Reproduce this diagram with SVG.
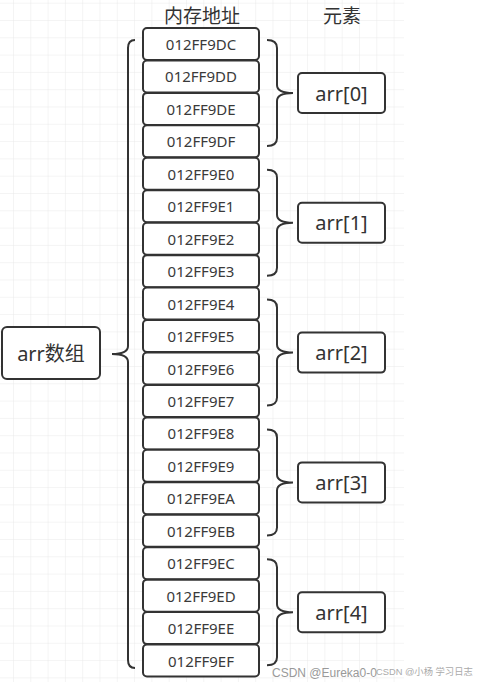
<svg xmlns="http://www.w3.org/2000/svg" width="477" height="682" viewBox="0 0 477 682">
<defs>
<pattern id="grid" x="13" y="2.7" width="17.3" height="17.3" patternUnits="userSpaceOnUse">
<path d="M0,0 L17.3,0 M0,0 L0,17.3" fill="none" stroke="#e9e9e9" stroke-width="1"/>
</pattern>
<path id="rb" d="M0,0 Q10,0 10,8 L10,45 Q10,53 26,53 Q10,53 10,61 L10,98 Q10,106 0,106" fill="none" stroke="#333" stroke-width="2"/>
</defs>
<style>
.box{fill:#fff;stroke:#333;stroke-width:2}
.mt{font-family:"Noto Sans","Noto Sans CJK SC",sans-serif;font-size:15px;fill:#3a3a3a;text-anchor:middle;dominant-baseline:central}
.et{font-family:"Noto Sans","Noto Sans CJK SC",sans-serif;font-size:20px;fill:#333;text-anchor:middle;dominant-baseline:central}
.hd{font-family:"Noto Sans CJK SC",sans-serif;font-size:19px;fill:#333;text-anchor:middle}
.br{fill:none;stroke:#333;stroke-width:2}
</style>
<rect width="477" height="682" fill="#fff"/>
<rect x="0" y="0" width="404" height="682" fill="url(#grid)"/>
<text class="hd" x="202" y="23">内存地址</text>
<text class="hd" x="342" y="23">元素</text>
<g id="connectors">
<path class="br" d="M135,40 Q128,40 128,48 L128,346 Q128,354 112,354 Q128,354 128,362 L128,660 Q128,668 135,668"/>
<use href="#rb" x="267" y="40"/>
<use href="#rb" x="267" y="169.8"/>
<use href="#rb" x="267" y="299.6"/>
<use href="#rb" x="267" y="429.4"/>
<use href="#rb" x="267" y="559.2"/>
</g>
<g id="arr">
<rect class="box" x="2" y="327" width="98" height="52" rx="5"/>
<text class="et" x="51" y="353">arr数组</text>
</g>
<g id="m0"><rect class="box" x="143" y="28" width="116" height="32" rx="4"/><text class="mt" x="201" y="44">012FF9DC</text></g>
<g id="m1"><rect class="box" x="143" y="60.45" width="116" height="32" rx="4"/><text class="mt" x="201" y="76.45">012FF9DD</text></g>
<g id="m2"><rect class="box" x="143" y="92.9" width="116" height="32" rx="4"/><text class="mt" x="201" y="108.9">012FF9DE</text></g>
<g id="m3"><rect class="box" x="143" y="125.35" width="116" height="32" rx="4"/><text class="mt" x="201" y="141.35">012FF9DF</text></g>
<g id="m4"><rect class="box" x="143" y="157.8" width="116" height="32" rx="4"/><text class="mt" x="201" y="173.8">012FF9E0</text></g>
<g id="m5"><rect class="box" x="143" y="190.25" width="116" height="32" rx="4"/><text class="mt" x="201" y="206.25">012FF9E1</text></g>
<g id="m6"><rect class="box" x="143" y="222.7" width="116" height="32" rx="4"/><text class="mt" x="201" y="238.7">012FF9E2</text></g>
<g id="m7"><rect class="box" x="143" y="255.15" width="116" height="32" rx="4"/><text class="mt" x="201" y="271.15">012FF9E3</text></g>
<g id="m8"><rect class="box" x="143" y="287.6" width="116" height="32" rx="4"/><text class="mt" x="201" y="303.6">012FF9E4</text></g>
<g id="m9"><rect class="box" x="143" y="320.05" width="116" height="32" rx="4"/><text class="mt" x="201" y="336.05">012FF9E5</text></g>
<g id="m10"><rect class="box" x="143" y="352.5" width="116" height="32" rx="4"/><text class="mt" x="201" y="368.5">012FF9E6</text></g>
<g id="m11"><rect class="box" x="143" y="384.95" width="116" height="32" rx="4"/><text class="mt" x="201" y="400.95">012FF9E7</text></g>
<g id="m12"><rect class="box" x="143" y="417.4" width="116" height="32" rx="4"/><text class="mt" x="201" y="433.4">012FF9E8</text></g>
<g id="m13"><rect class="box" x="143" y="449.85" width="116" height="32" rx="4"/><text class="mt" x="201" y="465.85">012FF9E9</text></g>
<g id="m14"><rect class="box" x="143" y="482.3" width="116" height="32" rx="4"/><text class="mt" x="201" y="498.3">012FF9EA</text></g>
<g id="m15"><rect class="box" x="143" y="514.75" width="116" height="32" rx="4"/><text class="mt" x="201" y="530.75">012FF9EB</text></g>
<g id="m16"><rect class="box" x="143" y="547.2" width="116" height="32" rx="4"/><text class="mt" x="201" y="563.2">012FF9EC</text></g>
<g id="m17"><rect class="box" x="143" y="579.65" width="116" height="32" rx="4"/><text class="mt" x="201" y="595.65">012FF9ED</text></g>
<g id="m18"><rect class="box" x="143" y="612.1" width="116" height="32" rx="4"/><text class="mt" x="201" y="628.1">012FF9EE</text></g>
<g id="m19"><rect class="box" x="143" y="644.55" width="116" height="32" rx="4"/><text class="mt" x="201" y="660.55">012FF9EF</text></g>
<g id="e0"><rect class="box" x="298" y="73" width="87" height="40" rx="4"/><text class="et" x="341.5" y="93">arr[0]</text></g>
<g id="e1"><rect class="box" x="298" y="202.8" width="87" height="40" rx="4"/><text class="et" x="341.5" y="222.8">arr[1]</text></g>
<g id="e2"><rect class="box" x="298" y="332.6" width="87" height="40" rx="4"/><text class="et" x="341.5" y="352.6">arr[2]</text></g>
<g id="e3"><rect class="box" x="298" y="462.4" width="87" height="40" rx="4"/><text class="et" x="341.5" y="482.4">arr[3]</text></g>
<g id="e4"><rect class="box" x="298" y="592.2" width="87" height="40" rx="4"/><text class="et" x="341.5" y="612.2">arr[4]</text></g>
<text x="272" y="677" font-family="Liberation Sans,sans-serif" font-size="12" fill="#999">CSDN @Eureka0-0</text>
<text x="376" y="675" font-family="Liberation Sans,'Noto Sans CJK SC',sans-serif" font-size="9.3" fill="#aaa">CSDN @小杨 学习日志</text>
</svg>
